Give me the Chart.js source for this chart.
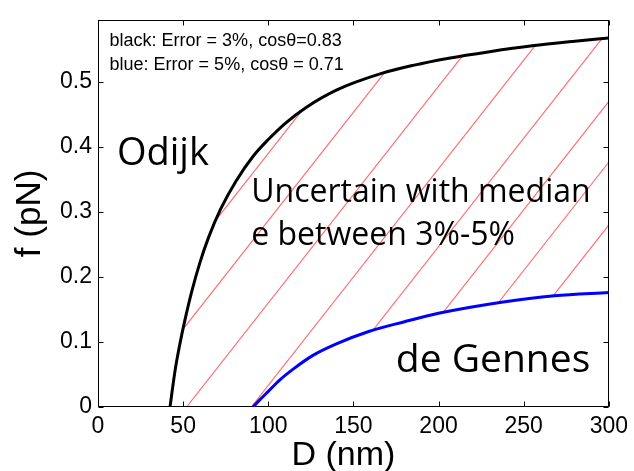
<!DOCTYPE html>
<html>
<head>
<meta charset="utf-8">
<style>
  html, body { margin: 0; padding: 0; background: #fff; }
</style>
<script src="https://cdn.jsdelivr.net/npm/chart.js@4.4.1/dist/chart.umd.min.js"></script>
</head>
<body>
<canvas id="chart" width="634" height="471"></canvas>
<script>
// black curve (Odijk limit, error 3%)
const odijkD = [42.3, 45.2, 48.1, 51, 55, 60, 65, 72, 81, 91, 100, 110, 122, 140, 167, 185, 206, 230, 255, 280, 300];
const odijkF = [0, 0.055, 0.097, 0.133, 0.177, 0.223, 0.261, 0.304, 0.347, 0.385, 0.411, 0.436, 0.46, 0.487, 0.513, 0.525, 0.536, 0.546, 0.555, 0.562, 0.567];

// blue curve (de Gennes limit, error 5%)
const gennesD = [91, 95, 100, 106.5, 115, 126, 140, 159, 180, 200, 237, 268, 300];
const gennesF = [0, 0.011, 0.024, 0.041, 0.059, 0.079, 0.097, 0.116, 0.131, 0.144, 0.161, 0.171, 0.176];

const xTicks = [0, 50, 100, 150, 200, 250, 300];
const yTicks = [0, 0.1, 0.2, 0.3, 0.4, 0.5];

// where each hatch line would meet f = 0, and its slope
const hatchStarts = [-17, 14, 52, 90, 126, 159, 187, 216];
const hatchSlope = 0.00333; // pN per nm

const noteLines = ['black: Error = 3%, cos\u03b8=0.83', 'blue: Error = 5%, cos\u03b8 = 0.71'];
const regionLabels = ['Odijk', 'Uncertain with median', 'e between 3%-5%', 'de Gennes'];
const xTitle = 'D (nm)';

const toPoints = (xs, ys) => xs.map((d, i) => ({ x: d, y: ys[i] }));

const helv = 'Liberation Sans, Arial, Helvetica, sans-serif';
const myriad = '"Open Sans", "Noto Sans", sans-serif';

const decorations = {
  id: 'decorations',
  beforeDatasetsDraw(chart) {
    const { ctx, chartArea: area, scales: { x, y } } = chart;
    const upper = chart.getDatasetMeta(0).data;
    const lower = chart.getDatasetMeta(1).data;

    // hatch between the two curves
    ctx.save();
    ctx.beginPath();
    ctx.rect(area.left, area.top, area.right - area.left, area.bottom - area.top);
    ctx.clip();
    ctx.beginPath();
    upper.forEach((p, i) => (i ? ctx.lineTo(p.x, p.y) : ctx.moveTo(p.x, p.y)));
    for (let i = lower.length - 1; i >= 0; i--) ctx.lineTo(lower[i].x, lower[i].y);
    ctx.closePath();
    ctx.clip();
    ctx.strokeStyle = '#ff7070';
    ctx.lineWidth = 1.2;
    ctx.beginPath();
    hatchStarts.forEach((d) => {
      ctx.moveTo(x.getPixelForValue(d), y.getPixelForValue(0));
      ctx.lineTo(x.getPixelForValue(d + 0.6 / hatchSlope), y.getPixelForValue(0.6));
    });
    ctx.stroke();
    ctx.restore();

    // box with inward ticks, matlab style
    const l = Math.round(area.left) + 0.5;
    const r = Math.round(area.right) - 0.5;
    const t = Math.round(area.top) + 0.5;
    const b = Math.round(area.bottom) - 0.5;
    ctx.save();
    ctx.strokeStyle = '#000';
    ctx.lineWidth = 1;
    ctx.strokeRect(l, t, r - l, b - t);
    ctx.beginPath();
    xTicks.forEach((v) => {
      const px = Math.round(x.getPixelForValue(v)) + 0.5;
      ctx.moveTo(px, b); ctx.lineTo(px, b - 5);
      ctx.moveTo(px, t); ctx.lineTo(px, t + 5);
    });
    yTicks.forEach((v) => {
      const py = Math.round(y.getPixelForValue(v)) + 0.5;
      ctx.moveTo(l, py); ctx.lineTo(l + 5, py);
      ctx.moveTo(r, py); ctx.lineTo(r - 5, py);
    });
    ctx.stroke();
    ctx.restore();
  },
  afterDatasetsDraw(chart) {
    const { ctx, chartArea: area, scales: { x, y } } = chart;
    const put = (text, d, f, font) => {
      ctx.font = font;
      ctx.fillText(text, x.getPixelForValue(d), y.getPixelForValue(f));
    };
    ctx.save();
    ctx.fillStyle = '#000';
    ctx.textAlign = 'left';
    ctx.textBaseline = 'alphabetic';
    put(noteLines[0], 6.8, 0.554, '18px ' + helv);
    put(noteLines[1], 6.8, 0.518, '18px ' + helv);
    put(regionLabels[0], 11.1, 0.3725, '38px ' + myriad);
    put(regionLabels[1], 90, 0.3148, '32px ' + myriad);
    put(regionLabels[2], 90, 0.2493, '32px ' + myriad);
    put(regionLabels[3], 174.9, 0.0543, '39px ' + myriad);

    // x axis title, sitting a little left of centre as in the original figure
    ctx.font = '34px ' + helv;
    ctx.textAlign = 'center';
    ctx.fillText(xTitle, (area.left + area.right) / 2 - 10, area.bottom + 58);
    ctx.restore();
  }
};

new Chart(document.getElementById('chart'), {
  type: 'line',
  data: {
    datasets: [
      {
        label: 'black',
        data: toPoints(odijkD, odijkF),
        borderColor: '#000000',
        borderWidth: 3,
        pointRadius: 0,
        cubicInterpolationMode: 'monotone',
        fill: false,
      },
      {
        label: 'blue',
        data: toPoints(gennesD, gennesF),
        borderColor: '#0000ff',
        borderWidth: 3,
        pointRadius: 0,
        cubicInterpolationMode: 'monotone',
        fill: false,
      },
    ],
  },
  options: {
    responsive: false,
    devicePixelRatio: 1,
    animation: false,
    layout: { padding: { left: 0, top: 12, right: 23, bottom: 0 } },
    plugins: {
      legend: { display: false },
      tooltip: { enabled: false },
    },
    scales: {
      x: {
        type: 'linear',
        min: 0,
        max: 300,
        afterBuildTicks: (scale) => { scale.ticks = xTicks.map((v) => ({ value: v })); },
        afterFit: (scale) => { scale.height = 64; },
        grid: { display: false, drawTicks: false },
        border: { display: false },
        ticks: {
          color: '#000',
          padding: 6,
          font: { family: helv, size: 23 },
          maxRotation: 0,
        },
      },
      y: {
        type: 'linear',
        min: 0,
        max: 0.595,
        afterBuildTicks: (scale) => { scale.ticks = yTicks.map((v) => ({ value: v })); },
        afterFit: (scale) => { scale.width = 98; },
        grid: { display: false, drawTicks: false },
        border: { display: false },
        ticks: {
          color: '#000',
          padding: 6,
          font: { family: helv, size: 23 },
          callback: (v) => String(Math.round(v * 10) / 10),
        },
        title: {
          display: true,
          text: 'f (pN)',
          color: '#000',
          font: { family: helv, size: 35, lineHeight: 1 },
          padding: { top: 13, bottom: 0 },
        },
      },
    },
  },
  plugins: [decorations],
});
</script>
</body>
</html>
